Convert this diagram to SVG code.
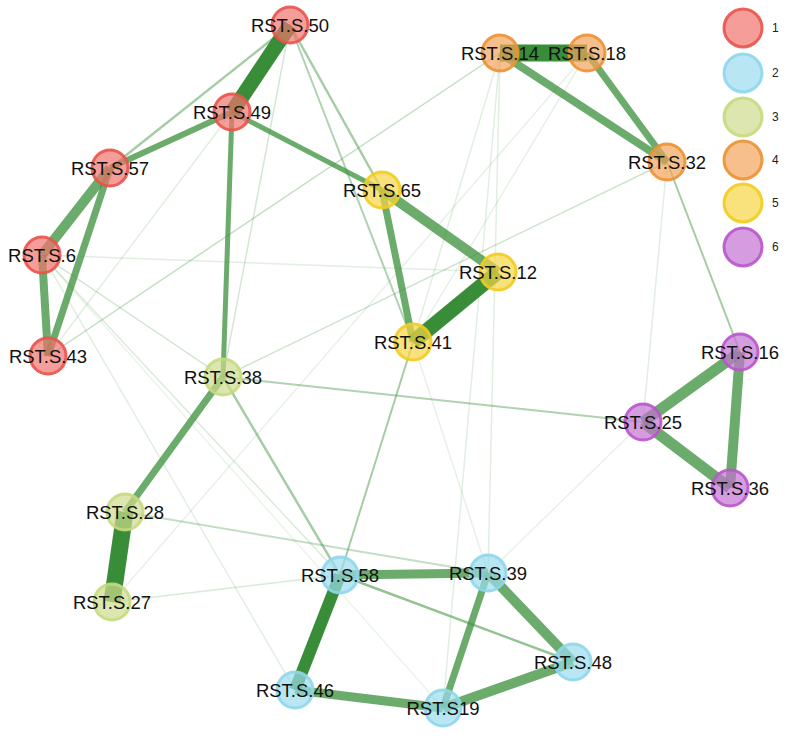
<svg xmlns="http://www.w3.org/2000/svg" width="787" height="737" viewBox="0 0 787 737">
<style>
.e{stroke:#3a8f3a;stroke-linecap:butt;fill:none}
.k{stroke-opacity:0.95;stroke:#2e872e}
.m{stroke-opacity:0.75}
.t{stroke-opacity:0.45}
.f{stroke-opacity:0.15}
.n{stroke-width:3;fill-opacity:0.7;stroke-opacity:0.9}
.c1{fill:#f1736c;stroke:#e9534b}
.c2{fill:#9adbec;stroke:#8fd6ec}
.c3{fill:#cddb8b;stroke:#c4da7e}
.c4{fill:#f4a45b;stroke:#ec9133}
.c5{fill:#f6d645;stroke:#f2cc1f}
.c6{fill:#c373d1;stroke:#b955cb}
.lbl{font-family:"Liberation Sans",Arial,sans-serif;font-size:18.5px;fill:#111;text-anchor:middle}
.lg{font-family:"Liberation Sans",Arial,sans-serif;font-size:12px;fill:#222}
</style>
<rect width="787" height="737" fill="#ffffff"/>
<g id="connectors">
<line class="e f" stroke-width="1.5" x1="48" y1="356" x2="232" y2="112"/>
<line class="e" stroke-opacity="0.3" stroke-width="1.5" x1="48" y1="356" x2="500" y2="53"/>
<line class="e" stroke-opacity="0.15" stroke-width="1.5" x1="42" y1="255" x2="498" y2="272"/>
<line class="e" stroke="#d9a0a0" stroke-opacity="0.25" stroke-width="1.5" x1="42" y1="255" x2="223" y2="377"/>
<line class="e" stroke-opacity="0.18" stroke-width="1.5" x1="42" y1="255" x2="340" y2="575"/>
<line class="e" stroke-opacity="0.14" stroke-width="1.5" x1="42" y1="255" x2="295" y2="690"/>
<line class="e" stroke-opacity="0.1" stroke-width="1.5" x1="42" y1="255" x2="443" y2="708"/>
<line class="e" stroke-opacity="0.22" stroke-width="1.5" x1="290" y1="25" x2="223" y2="377"/>
<line class="e" stroke-opacity="0.25" stroke-width="1.5" x1="667" y1="162" x2="223" y2="377"/>
<line class="e f" stroke-width="1.5" x1="667" y1="162" x2="643" y2="422"/>
<line class="e f" stroke-width="1.5" x1="500" y1="53" x2="443" y2="708"/>
<line class="e f" stroke-width="1.5" x1="500" y1="53" x2="488" y2="573"/>
<line class="e f" stroke-width="1.5" x1="500" y1="53" x2="413" y2="342"/>
<line class="e" stroke-opacity="0.12" stroke-width="1.5" x1="587" y1="53" x2="413" y2="342"/>
<line class="e" stroke-opacity="0.12" stroke-width="1.5" x1="587" y1="53" x2="112" y2="602"/>
<line class="e" stroke-opacity="0.12" stroke-width="1.5" x1="488" y1="573" x2="643" y2="422"/>
<line class="e" stroke-opacity="0.12" stroke-width="1.5" x1="413" y1="342" x2="488" y2="573"/>
<line class="e" stroke-opacity="0.3" stroke-width="2" x1="125" y1="512" x2="488" y2="573"/>
<line class="e" stroke-opacity="0.2" stroke-width="1.5" x1="112" y1="602" x2="340" y2="575"/>
<line class="e t" stroke-width="2.5" x1="290" y1="25" x2="110" y2="168"/>
<line class="e t" stroke-width="2.5" x1="290" y1="25" x2="382" y2="190"/>
<line class="e" stroke-opacity="0.4" stroke-width="2" x1="290" y1="25" x2="413" y2="342"/>
<line class="e t" stroke-width="2.5" x1="223" y1="377" x2="340" y2="575"/>
<line class="e t" stroke-width="2" x1="413" y1="342" x2="340" y2="575"/>
<line class="e" stroke-opacity="0.4" stroke-width="2" x1="223" y1="377" x2="643" y2="422"/>
<line class="e t" stroke-width="2" x1="667" y1="162" x2="740" y2="352"/>
<line class="e" stroke-opacity="0.55" stroke-width="2.5" x1="340" y1="575" x2="573" y2="662"/>
<line class="e m" stroke-width="6" x1="232" y1="112" x2="110" y2="168"/>
<line class="e m" stroke-width="5" x1="232" y1="112" x2="382" y2="190"/>
<line class="e m" stroke-width="5" x1="232" y1="112" x2="223" y2="377"/>
<line class="e m" stroke-width="10" x1="110" y1="168" x2="42" y2="255"/>
<line class="e m" stroke-width="7" x1="110" y1="168" x2="48" y2="356"/>
<line class="e m" stroke-width="8" x1="42" y1="255" x2="48" y2="356"/>
<line class="e m" stroke-width="10" x1="382" y1="190" x2="498" y2="272"/>
<line class="e m" stroke-width="7" x1="382" y1="190" x2="413" y2="342"/>
<line class="e m" stroke-width="8" x1="500" y1="53" x2="667" y2="162"/>
<line class="e m" stroke-width="7" x1="587" y1="53" x2="667" y2="162"/>
<line class="e m" stroke-width="11" x1="740" y1="352" x2="643" y2="422"/>
<line class="e m" stroke-width="10" x1="740" y1="352" x2="730" y2="488"/>
<line class="e m" stroke-width="11" x1="643" y1="422" x2="730" y2="488"/>
<line class="e m" stroke-width="7" x1="223" y1="377" x2="125" y2="512"/>
<line class="e m" stroke-width="9" x1="340" y1="575" x2="488" y2="573"/>
<line class="e m" stroke-width="9" x1="295" y1="690" x2="443" y2="708"/>
<line class="e m" stroke-width="10" x1="443" y1="708" x2="573" y2="662"/>
<line class="e m" stroke-width="10" x1="488" y1="573" x2="573" y2="662"/>
<line class="e m" stroke-width="7" x1="488" y1="573" x2="443" y2="708"/>
<line class="e k" stroke-width="12" x1="340" y1="575" x2="295" y2="690"/>
<line class="e k" stroke-width="15" x1="290" y1="25" x2="232" y2="112"/>
<line class="e k" stroke-width="15" x1="498" y1="272" x2="413" y2="342"/>
<line class="e k" stroke-width="17" x1="500" y1="53" x2="587" y2="53"/>
<line class="e k" stroke-width="17" x1="125" y1="512" x2="112" y2="602"/>
</g>
<g id="node-50"><circle class="n c1" cx="290" cy="25" r="18"/><text class="lbl" x="290" y="32">RST.S.50</text></g>
<g id="node-49"><circle class="n c1" cx="232" cy="112" r="18"/><text class="lbl" x="232" y="119">RST.S.49</text></g>
<g id="node-57"><circle class="n c1" cx="110" cy="168" r="18"/><text class="lbl" x="110" y="175">RST.S.57</text></g>
<g id="node-6"><circle class="n c1" cx="42" cy="255" r="18"/><text class="lbl" x="42" y="262">RST.S.6</text></g>
<g id="node-43"><circle class="n c1" cx="48" cy="356" r="18"/><text class="lbl" x="48" y="363">RST.S.43</text></g>
<g id="node-65"><circle class="n c5" cx="382" cy="190" r="18"/><text class="lbl" x="382" y="197">RST.S.65</text></g>
<g id="node-12"><circle class="n c5" cx="498" cy="272" r="18"/><text class="lbl" x="498" y="279">RST.S.12</text></g>
<g id="node-41"><circle class="n c5" cx="413" cy="342" r="18"/><text class="lbl" x="413" y="349">RST.S.41</text></g>
<g id="node-14"><circle class="n c4" cx="500" cy="53" r="18"/><text class="lbl" x="500" y="60">RST.S.14</text></g>
<g id="node-18"><circle class="n c4" cx="587" cy="53" r="18"/><text class="lbl" x="587" y="60">RST.S.18</text></g>
<g id="node-32"><circle class="n c4" cx="667" cy="162" r="18"/><text class="lbl" x="667" y="169">RST.S.32</text></g>
<g id="node-16"><circle class="n c6" cx="740" cy="352" r="18"/><text class="lbl" x="740" y="359">RST.S.16</text></g>
<g id="node-25"><circle class="n c6" cx="643" cy="422" r="18"/><text class="lbl" x="643" y="429">RST.S.25</text></g>
<g id="node-36"><circle class="n c6" cx="730" cy="488" r="18"/><text class="lbl" x="730" y="495">RST.S.36</text></g>
<g id="node-38"><circle class="n c3" cx="223" cy="377" r="18"/><text class="lbl" x="223" y="384">RST.S.38</text></g>
<g id="node-28"><circle class="n c3" cx="125" cy="512" r="18"/><text class="lbl" x="125" y="519">RST.S.28</text></g>
<g id="node-27"><circle class="n c3" cx="112" cy="602" r="18"/><text class="lbl" x="112" y="609">RST.S.27</text></g>
<g id="node-58"><circle class="n c2" cx="340" cy="575" r="18"/><text class="lbl" x="340" y="582">RST.S.58</text></g>
<g id="node-39"><circle class="n c2" cx="488" cy="573" r="18"/><text class="lbl" x="488" y="580">RST.S.39</text></g>
<g id="node-48"><circle class="n c2" cx="573" cy="662" r="18"/><text class="lbl" x="573" y="669">RST.S.48</text></g>
<g id="node-46"><circle class="n c2" cx="295" cy="690" r="18"/><text class="lbl" x="295" y="697">RST.S.46</text></g>
<g id="node-19"><circle class="n c2" cx="443" cy="708" r="18"/><text class="lbl" x="443" y="715">RST.S19</text></g>
<g id="legend">
<g id="legend-1"><circle class="n c1" cx="743" cy="28" r="19"/><text class="lg" x="772" y="32">1</text></g>
<g id="legend-2"><circle class="n c2" cx="743" cy="73" r="19"/><text class="lg" x="772" y="77">2</text></g>
<g id="legend-3"><circle class="n c3" cx="743" cy="117" r="19"/><text class="lg" x="772" y="121">3</text></g>
<g id="legend-4"><circle class="n c4" cx="743" cy="160" r="19"/><text class="lg" x="772" y="164">4</text></g>
<g id="legend-5"><circle class="n c5" cx="743" cy="203" r="19"/><text class="lg" x="772" y="207">5</text></g>
<g id="legend-6"><circle class="n c6" cx="743" cy="247" r="19"/><text class="lg" x="772" y="251">6</text></g>
</g>
</svg>
